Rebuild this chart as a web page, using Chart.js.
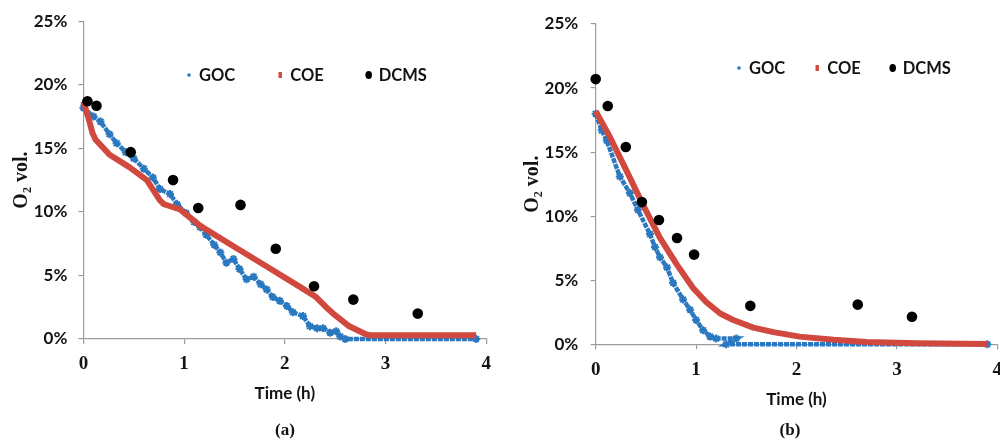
<!DOCTYPE html>
<html>
<head>
<meta charset="utf-8">
<title>O2 vol. vs time</title>
<script src="https://cdn.jsdelivr.net/npm/chart.js@4.4.1/dist/chart.umd.min.js"></script>
<style>
  html, body { margin: 0; padding: 0; background: #fff; overflow: hidden; }
  body { width: 1000px; height: 441px; position: relative; }
  .panel { position: absolute; top: 0; height: 441px; }
  #panelA { left: 0; width: 500px; }
  #panelB { left: 500px; width: 520px; }
  .caption { position: absolute; top: 420px; transform: translateX(-50%); font: bold 17px "Liberation Serif", serif; color: #111; }
</style>
</head>
<body>
<div class="panel" id="panelA"><canvas id="chartA"></canvas></div>
<div class="panel" id="panelB"><canvas id="chartB"></canvas></div>
<div class="caption" style="left:285px">(a)</div>
<div class="caption" style="left:790px">(b)</div>
<script>
  "use strict";

  // ---- data (time in h, O2 in vol. %) ----
  const xTicks = [0, 1, 2, 3, 4];
  const yTicks = [0, 5, 10, 15, 20, 25];

  // panel (a)
  const gocTimeA = [0, 0.1, 0.17, 0.26, 0.33, 0.42, 0.5, 0.6, 0.69, 0.76, 0.86, 0.93, 1.02, 1.1, 1.16, 1.22, 1.3, 1.36, 1.42, 1.49, 1.55, 1.62, 1.69, 1.76, 1.82, 1.88, 1.95, 2.02, 2.08, 2.18, 2.25, 2.32, 2.38, 2.45, 2.51, 2.55, 2.6, 3.9];
  const gocO2A = [18.2, 17.5, 17.1, 16.1, 15.4, 14.7, 14.2, 13.4, 12.7, 11.8, 11.4, 10.6, 9.9, 9.2, 8.8, 8.2, 7.4, 6.8, 6.0, 6.3, 5.5, 4.7, 4.9, 4.3, 3.9, 3.3, 3.0, 2.6, 2.1, 1.8, 1.0, 0.85, 0.85, 0.5, 0.6, 0.2, 0, 0];
  const coeTimeA = [0, 0.05, 0.09, 0.12, 0.26, 0.46, 0.63, 0.76, 0.8, 0.96, 1.16, 1.49, 1.82, 2.15, 2.31, 2.41, 2.48, 2.64, 2.81, 2.85, 3.9];
  const coeO2A = [18.7, 17.4, 16.2, 15.7, 14.5, 13.5, 12.5, 10.9, 10.6, 10.2, 8.9, 7.3, 5.7, 4.1, 3.3, 2.5, 2.0, 1.0, 0.35, 0.3, 0.3];
  const dcmsTimeA = [0.04, 0.13, 0.47, 0.89, 1.14, 1.56, 1.91, 2.29, 2.68, 3.32];
  const dcmsO2A = [18.7, 18.35, 14.7, 12.5, 10.3, 10.55, 7.1, 4.15, 3.1, 2.0];

  // panel (b)
  const gocTimeB = [0, 0.06, 0.11, 0.24, 0.34, 0.42, 0.54, 0.59, 0.64, 0.71, 0.77, 0.87, 0.94, 1.0, 1.07, 1.14, 1.2, 1.4, 1.3, 3.9];
  const gocO2B = [18.0, 16.7, 15.9, 13.1, 11.8, 10.5, 8.6, 7.6, 6.8, 6.0, 4.8, 3.5, 2.7, 1.9, 1.1, 0.6, 0.45, 0.45, 0, 0];
  const coeTimeB = [0, 0.14, 0.31, 0.47, 0.64, 0.81, 0.97, 1.1, 1.24, 1.37, 1.57, 1.77, 2.03, 2.37, 2.7, 3.2, 3.9];
  const coeO2B = [18.2, 16.2, 13.5, 10.9, 8.3, 6.2, 4.4, 3.3, 2.4, 1.9, 1.3, 0.95, 0.6, 0.35, 0.18, 0.08, 0.03];
  const dcmsTimeB = [0, 0.12, 0.3, 0.46, 0.63, 0.81, 0.98, 1.54, 2.61, 3.15];
  const dcmsO2B = [20.7, 18.6, 15.4, 11.1, 9.7, 8.3, 7.0, 3.0, 3.1, 2.15];

  const BLUE = "#2a78c0";
  const RED = "#d1483f";
  const AXIS = "#9c9c9c";
  const INK = "#141414";
  const SANS = "Lato, 'Open Sans', sans-serif";
  const SERIF = "'Liberation Serif', 'DejaVu Serif', serif";

  const toPoints = (xs, ys) => xs.map((x, i) => ({ x, y: ys[i] }));

  const drawLegendMarker = (ctx, kind, x, y) => {
    ctx.beginPath();
    if (kind === "goc") {
      ctx.fillStyle = BLUE;
      ctx.arc(x, y, 1.8, 0, Math.PI * 2);
      ctx.fill();
    } else if (kind === "coe") {
      ctx.fillStyle = RED;
      ctx.fillRect(x - 1.7, y - 3, 3.4, 6);
    } else {
      ctx.fillStyle = "#000";
      ctx.ellipse(x, y, 3.3, 4, 0, 0, Math.PI * 2);
      ctx.fill();
    }
  };

  // legend drawn inside the plot, like the spreadsheet original
  const insideLegend = {
    id: "insideLegend",
    afterDatasetsDraw(chart, args, opts) {
      const ctx = chart.ctx;
      ctx.save();
      ctx.font = `bold 16.5px ${SANS}`;
      ctx.textBaseline = "middle";
      ctx.textAlign = "left";
      let x = opts.x;
      chart.data.datasets.forEach((ds) => {
        drawLegendMarker(ctx, ds.marker, x, opts.y);
        ctx.fillStyle = INK;
        ctx.fillText(ds.label, x + opts.textOffset, opts.y + 1);
        x += opts.textOffset + ctx.measureText(ds.label).width + opts.gap;
      });
      ctx.restore();
    }
  };

  const buildDatasets = (goc, coe, dcms) => [
    {
      label: "GOC", marker: "goc", order: 3, clip: false,
      data: goc, showLine: true,
      borderColor: BLUE, borderWidth: 4.5, borderDash: [5, 1],
      pointStyle: "star", pointRadius: 4, pointBorderWidth: 2,
      pointBorderColor: BLUE, pointBackgroundColor: BLUE
    },
    {
      label: "COE", marker: "coe", order: 2, clip: false,
      data: coe, showLine: true,
      borderColor: RED, borderWidth: 6, borderJoinStyle: "round",
      pointRadius: 0
    },
    {
      label: "DCMS", marker: "dcms", order: 1, clip: false,
      data: dcms, showLine: false,
      pointStyle: "circle", pointRadius: 5.3, pointBorderWidth: 0,
      backgroundColor: "#000", pointBackgroundColor: "#000"
    }
  ];

  const buildScales = (p) => ({
    x: {
      type: "linear",
      min: xTicks[0],
      max: xTicks[xTicks.length - 1],
      afterFit: (scale) => { scale.height = p.xHeight; },
      afterBuildTicks: (scale) => { scale.ticks = xTicks.map((value) => ({ value })); },
      ticks: { color: INK, padding: 9, font: { family: SERIF, size: 19, weight: "bold" } },
      grid: { drawOnChartArea: false, tickLength: 5, color: AXIS, lineWidth: 1.2 },
      border: { color: AXIS, width: 1.2 },
      title: {
        display: true, text: "Time (h)", color: INK,
        font: { family: SANS, size: 17, weight: "bold" },
        padding: { top: 0, bottom: p.xTitlePad }
      }
    },
    y: {
      type: "linear",
      min: yTicks[0],
      max: yTicks[yTicks.length - 1],
      afterFit: (scale) => { scale.width = p.yWidth; },
      afterBuildTicks: (scale) => { scale.ticks = yTicks.map((value) => ({ value })); },
      ticks: {
        color: INK, padding: p.yTickPad,
        font: { family: SANS, size: 17, weight: "bold" },
        callback: (value) => `${value}%`
      },
      grid: { drawOnChartArea: false, tickLength: 5, color: AXIS, lineWidth: 1.2 },
      border: { color: AXIS, width: 1.2 },
      title: {
        display: true, text: "O₂ vol.", color: INK,
        font: { family: SERIF, size: 20, weight: "bold" },
        padding: { top: p.yTitlePad, bottom: 0 }
      }
    }
  });

  const makeChart = (id, datasets, p) => new Chart(document.getElementById(id), {
    type: "scatter",
    data: { datasets },
    plugins: [insideLegend],
    options: {
      responsive: true,
      maintainAspectRatio: false,
      animation: false,
      events: [],
      layout: { padding: { top: p.top, right: p.right, bottom: 0, left: 0 } },
      plugins: {
        legend: { display: false },
        tooltip: { enabled: false },
        insideLegend: p.legend
      },
      scales: buildScales(p)
    }
  });

  makeChart("chartA",
    buildDatasets(toPoints(gocTimeA, gocO2A), toPoints(coeTimeA, coeO2A), toPoints(dcmsTimeA, dcmsO2A)),
    { top: 20.7, right: 13.3, xHeight: 102, yWidth: 83.4, yTickPad: 11, yTitlePad: 10, xTitlePad: 37,
      legend: { x: 189, y: 75, textOffset: 10, gap: 45 } });

  makeChart("chartB",
    buildDatasets(toPoints(gocTimeB, gocO2B), toPoints(coeTimeB, coeO2B), toPoints(dcmsTimeB, dcmsO2B)),
    { top: 24, right: 22.7, xHeight: 96.7, yWidth: 95.7, yTickPad: 12.5, yTitlePad: 21, xTitlePad: 31,
      legend: { x: 239, y: 68, textOffset: 10, gap: 32 } });
</script>
</body>
</html>
